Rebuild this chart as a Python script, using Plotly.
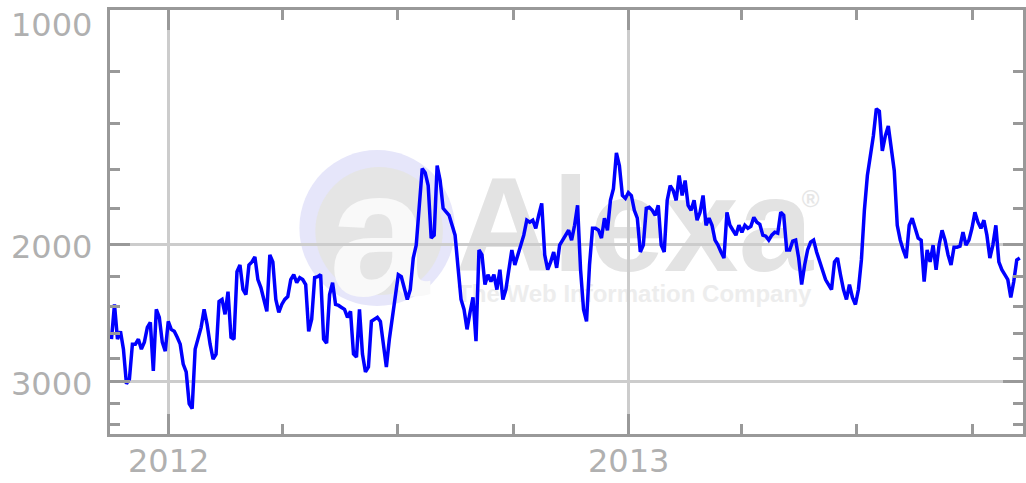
"""
Alexa traffic rank chart, Nov 2011 - Nov 2013.

Rank is drawn on a reversed log axis (best rank at the top), with the
faint Alexa watermark behind the line.
"""
import math

import pandas as pd
import plotly.graph_objects as go

# daily-ish rank samples, one every 57 hours starting mid November 2011
start_date = "2011-11-16 20:00"
sample_step = "57h"
ranks = [
    2645, 2387, 2645, 2584, 2724, 3018, 2974, 2684, 2684, 2645,
    2724, 2668, 2554, 2516, 2905, 2422, 2480, 2668, 2740, 2509,
    2569, 2584, 2630, 2684, 2846, 2914, 3200, 3247, 2724, 2645,
    2554, 2422, 2531, 2684, 2805, 2764, 2366, 2352, 2458, 2298,
    2630, 2645, 2167, 2124, 2284, 2318, 2124, 2105, 2074, 2218,
    2271, 2352, 2436, 2062, 2105, 2352, 2444, 2387, 2352, 2332,
    2218, 2186, 2238, 2205, 2218, 2251, 2584, 2494, 2205, 2199,
    2186, 2645, 2676, 2318, 2238, 2387, 2394, 2408, 2422, 2480,
    2436, 2764, 2789, 2422, 2764, 2914, 2871, 2509, 2494, 2480,
    2509, 2684, 2871, 2645, 2494, 2338, 2186, 2199, 2284, 2352,
    2284, 2081, 2003, 1781, 1598, 1617, 1680, 1962, 1945, 1584,
    1655, 1797, 1818, 1834, 1889, 1945, 2142, 2352, 2422, 2569,
    2444, 2338, 2661, 2032, 2062, 2251, 2186, 2231, 2186, 2284,
    2154, 2352, 2284, 2154, 2032, 2124, 2062, 2003, 1945, 1861,
    1872, 1861, 1906, 1834, 1771, 2062, 2154, 2105, 2044, 2142,
    2003, 1974, 1945, 1917, 1974, 1889, 1781, 2154, 2422, 2509,
    2124, 1906, 1906, 1917, 1962, 1850, 1917, 1755, 1695, 1525,
    1584, 1730, 1745, 1715, 1730, 1807, 1850, 2044, 2003, 1797,
    1791, 1807, 1834, 1781, 2003, 2044, 1755, 1680, 1705, 1755,
    1631, 1730, 1655, 1781, 1807, 1755, 1861, 1818, 1730, 1889,
    1850, 1889, 1974, 2003, 2044, 2081, 1818, 1889, 1917, 1945,
    1889, 1928, 1889, 1906, 1895, 1845, 1872, 1884, 1945, 1951,
    1974, 1945, 1928, 1934, 1818, 1834, 2032, 2032, 1980, 1974,
    2081, 2251, 2124, 2032, 1986, 1974, 2044, 2105, 2167, 2218,
    2251, 2284, 2105, 2081, 2186, 2284, 2352, 2251, 2338, 2387,
    2284, 2093, 1807, 1631, 1538, 1451, 1339, 1348, 1516, 1451,
    1409, 1516, 1608, 1889, 1974, 2032, 2081, 1889, 1850, 1906,
    1962, 1974, 2231, 2032, 2105, 2003, 2154, 2003, 1917, 1974,
    2062, 2124, 2015, 2015, 2009, 1928, 2003, 1974, 1906, 1818,
    1872, 1906, 1861, 1945, 2081, 2003, 1889, 2105, 2154, 2186,
    2218, 2338, 2231, 2093, 2081,
]

year_ticks = ["2012-01-01", "2013-01-01"]
year_labels = ["2012", "2013"]
quarter_ticks = ["2012-04-01", "2012-07-01", "2012-10-01",
                 "2013-04-01", "2013-07-01", "2013-10-01"]
rank_ticks = [1000, 2000, 3000]
rank_minor_ticks = [1200, 1400, 1600, 1800, 2200, 2400, 2600, 2800, 3200, 3400]
x_range = ["2011-11-15 15:30", "2013-11-10 10:00"]
rank_range = [3500, 1000]

AXIS_GREY = "#999999"
GRID_GREY = "#cccccc"
LABEL_GREY = "#b0b0b0"
LABEL_FONT = dict(family="DejaVu Sans, Verdana, sans-serif", size=32, color=LABEL_GREY)
NARROW = "Liberation Sans Narrow, Arial Narrow, Liberation Sans, sans-serif"

W, H = 1026, 483
L, R, T, B = 110, 0, 10, 49


def px_x(x):
    """pixel x -> paper x"""
    return (x - L) / (W - L - R)


def px_y(y):
    """pixel y -> paper y"""
    return (H - B - y) / (H - T - B)


def watermark_shapes():
    """Faint Alexa logo sitting behind the line."""
    shapes = [
        dict(type="circle", xref="paper", yref="paper", layer="below",
             x0=px_x(300), x1=px_x(456), y0=px_y(306), y1=px_y(150),
             fillcolor="#e6e6fa", line_width=0),
        dict(type="circle", xref="paper", yref="paper", layer="below",
             x0=px_x(316), x1=px_x(444), y0=px_y(295), y1=px_y(167),
             fillcolor="#e5e5e5", line_width=0),
    ]
    texts = [
        ("a", 330, 430, 145, 285, 180, "#f9f9f9"),
        ("Alexa", 470, 802, 150, 272, 134, "#e3e3e3"),
        ("The Web Information Company", 470, 802, 277, 305, 24, "#ededed"),
        ("\u00ae", 800, 826, 182, 210, 24, "#e6e6e6"),
    ]
    for text, x0, x1, y0, y1, size, color in texts:
        shapes.append(dict(
            type="rect", xref="paper", yref="paper", layer="below",
            x0=px_x(x0), x1=px_x(x1), y0=px_y(y1), y1=px_y(y0),
            line_width=0, fillcolor="rgba(0,0,0,0)",
            label=dict(text=text, textposition="middle center",
                       font=dict(family=NARROW, size=size, color=color, weight="bold")),
        ))
    return shapes


dates = pd.date_range(start=start_date, periods=len(ranks), freq=sample_step)

fig = go.Figure()
fig.add_trace(go.Scatter(x=dates, y=ranks, mode="lines",
                         line=dict(color="#0000ff", width=3.5),
                         hoverinfo="skip", showlegend=False))

tick_style = dict(ticks="inside", tickcolor=AXIS_GREY, tickwidth=3,
                  showline=True, linecolor=AXIS_GREY, linewidth=3, mirror="ticks",
                  showticklabels=False, zeroline=False,
                  gridcolor=GRID_GREY, gridwidth=3)

fig.update_xaxes(type="date", range=x_range, tickmode="array", tickvals=year_ticks,
                 ticklen=20,
                 minor=dict(tickmode="array", tickvals=quarter_ticks, ticks="inside",
                            ticklen=10, tickwidth=3, tickcolor=AXIS_GREY, showgrid=False),
                 **tick_style)
fig.update_yaxes(type="log", range=[math.log10(v) for v in rank_range],
                 tickmode="array", tickvals=rank_ticks, ticklen=20,
                 minor=dict(tickmode="array", tickvals=rank_minor_ticks, ticks="inside",
                            ticklen=10, tickwidth=3, tickcolor=AXIS_GREY, showgrid=False),
                 **tick_style)

annotations = []
for v, shift in zip(rank_ticks, [-15, -2, -2]):
    annotations.append(dict(text=str(v), xref="paper", x=0, xanchor="right", xshift=-16,
                            yref="y", y=math.log10(v), yanchor="middle", yshift=shift,
                            showarrow=False, font=LABEL_FONT))
for d, lab in zip(year_ticks, year_labels):
    annotations.append(dict(text=lab, xref="x", x=d, xanchor="center",
                            yref="paper", y=0, yanchor="middle", yshift=-27,
                            showarrow=False, font=LABEL_FONT))

fig.update_layout(
    width=W, height=H,
    margin=dict(l=L, r=R, t=T, b=B),
    paper_bgcolor="white", plot_bgcolor="white",
    shapes=watermark_shapes(),
    annotations=annotations,
)

# the page's default body margin would push the chart 8px off
fig.write_html("out.html", config={"displayModeBar": False},
               post_script="document.body.style.margin='0px';")
